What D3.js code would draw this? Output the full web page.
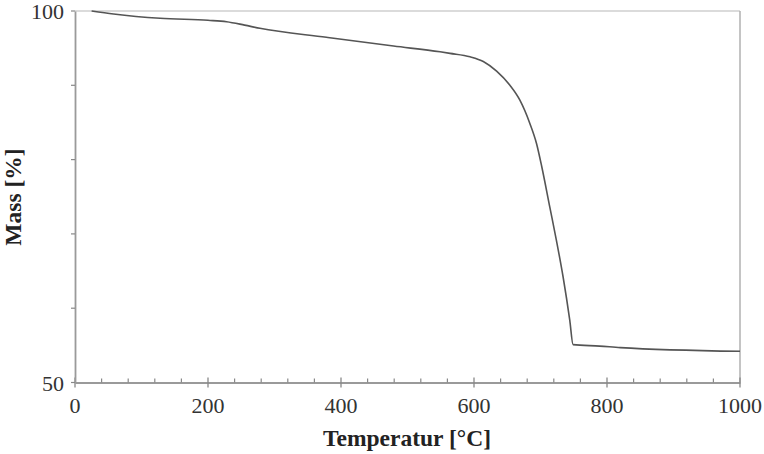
<!DOCTYPE html>
<html><head><meta charset="utf-8">
<script src="https://cdn.jsdelivr.net/npm/d3@7"></script>
<style>body{margin:0;background:#fff}svg{display:block}</style>
</head><body>
<script>
const temperature = [25, 58, 128, 200, 228, 255, 278, 378, 479, 549, 564, 594, 614, 634, 654, 669, 684, 694, 702, 714, 724, 734, 744, 749, 789, 820, 1000];
const mass = [100, 99.6, 99.02, 98.75, 98.56, 98.1, 97.67, 96.46, 95.28, 94.51, 94.3, 93.84, 93.2, 91.9, 90.0, 88.0, 84.87, 82.17, 79.0, 73.6, 69.1, 64.2, 58.4, 55.1, 54.9, 54.7, 54.2];
const xMajorTicks = [0, 200, 400, 600, 800, 1000];
const xMinorTicks = d3.range(0, 1001, 40);
const yMajorTicks = [50, 100];
const yMinorTicks = [50, 60, 70, 80, 90, 100];
const xTitle = "Temperatur [°C]";
const yTitle = "Mass [%]";

const W = 764, H = 454;
const svg = d3.select("body").append("svg").attr("width", W).attr("height", H);
const x = d3.scaleLinear().domain([0, 1000]).range([75, 740]);
const y = d3.scaleLinear().domain([50, 100]).range([382.5, 11]);
const font = "'Liberation Serif', 'Times New Roman', serif";
const axisCol = "#9a9a9a";

// frame top and right
svg.append("line").attr("x1", x(0)).attr("x2", x(1000)).attr("y1", y(100)).attr("y2", y(100))
  .attr("stroke", "#cfcfcf").attr("stroke-width", 1.5);
svg.append("line").attr("x1", x(1000)).attr("x2", x(1000)).attr("y1", y(100)).attr("y2", y(50))
  .attr("stroke", "#b0b0b0").attr("stroke-width", 1.5);

// x axis
const xg = svg.append("g").attr("transform", `translate(0,${y(50)})`);
xg.call(d3.axisBottom(x).tickValues(xMinorTicks).tickSize(0).tickFormat(""));
xg.selectAll(".tick").remove();
xg.select(".domain").attr("stroke", axisCol).attr("stroke-width", 1.8);
xg.selectAll(".minor").data(xMinorTicks.filter(d => d % 200 !== 0)).join("line")
  .attr("x1", d => x(d)).attr("x2", d => x(d)).attr("y1", -4).attr("y2", 0)
  .attr("stroke", "#888").attr("stroke-width", 1.2);
xg.selectAll(".major").data(xMajorTicks).join("line")
  .attr("x1", d => x(d)).attr("x2", d => x(d)).attr("y1", -5).attr("y2", 5)
  .attr("stroke", "#888").attr("stroke-width", 1.3);
xg.selectAll(".lbl").data(xMajorTicks).join("text")
  .attr("x", d => x(d)).attr("y", 30).attr("text-anchor", "middle")
  .attr("font-family", font).attr("font-size", 22).attr("fill", "#333").text(d => d);

// y axis
const yg = svg.append("g").attr("transform", `translate(${x(0)},0)`);
yg.call(d3.axisLeft(y).tickValues(yMinorTicks).tickSize(0).tickFormat(""));
yg.selectAll(".tick").remove();
yg.select(".domain").attr("stroke", axisCol).attr("stroke-width", 1.8);
yg.selectAll(".minor").data(yMinorTicks).join("line")
  .attr("x1", -4).attr("x2", 0).attr("y1", d => y(d)).attr("y2", d => y(d))
  .attr("stroke", "#888").attr("stroke-width", 1.2);
yg.selectAll(".lbl").data(yMajorTicks).join("text")
  .attr("x", -11).attr("y", d => y(d) + 8).attr("text-anchor", "end")
  .attr("font-family", font).attr("font-size", 22).attr("fill", "#333").text(d => d);

// titles
svg.append("text").attr("x", 407).attr("y", 446).attr("text-anchor", "middle")
  .attr("font-family", font).attr("font-weight", "bold").attr("font-size", 23.5).attr("fill", "#222").text(xTitle);
svg.append("text").attr("transform", "translate(21,197) rotate(-90)").attr("text-anchor", "middle")
  .attr("font-family", font).attr("font-weight", "bold").attr("font-size", 23.5).attr("fill", "#222").text(yTitle);

// curve
const data = temperature.map((t, i) => [t, mass[i]]);
svg.append("path").datum(data)
  .attr("d", d3.line().x(d => x(d[0])).y(d => y(d[1])).curve(d3.curveMonotoneX))
  .attr("fill", "none").attr("stroke", "#555").attr("stroke-width", 1.6);
</script>
</body></html>
